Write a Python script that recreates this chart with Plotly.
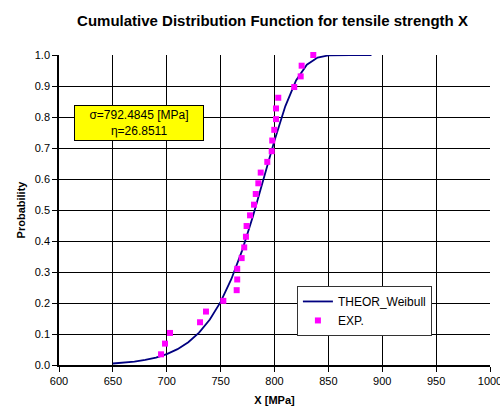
import plotly.graph_objects as go

# Theoretical Weibull CDF
theor_x = [650, 660, 670, 680, 690, 700, 710, 720, 730, 740, 750, 760, 770,
           780, 790, 800, 810, 820, 830, 840, 850, 860, 870, 880, 890]
theor_y = [0.0049, 0.0073, 0.0110, 0.0163, 0.0240, 0.0351, 0.0510, 0.0733,
           0.1044, 0.1469, 0.2037, 0.2775, 0.3698, 0.4795, 0.6011, 0.7243,
           0.8344, 0.9180, 0.9687, 0.9916, 0.9986, 0.9999, 1.0, 1.0, 1.0]

# Experimental points
exp_x = [694.7, 698.4, 703.0, 730.9, 736.4, 752.5, 764.9, 765.4, 765.4,
         769.5, 771.9, 773.5, 774.1, 777.3, 781.0, 782.6, 785.0, 787.2,
         793.3, 797.4, 797.9, 799.8, 801.4, 801.4, 803.5, 818.3, 824.3,
         825.2, 836.0]
exp_y = [0.0345, 0.0690, 0.1034, 0.1379, 0.1724, 0.2069, 0.2414, 0.2759,
         0.3103, 0.3448, 0.3793, 0.4138, 0.4483, 0.4828, 0.5172, 0.5517,
         0.5862, 0.6207, 0.6552, 0.6897, 0.7241, 0.7586, 0.7931, 0.8276,
         0.8621, 0.8966, 0.9310, 0.9655, 1.0]

FONT = "Liberation Sans, Arial, sans-serif"

fig = go.Figure()
fig.add_trace(go.Scatter(
    x=theor_x, y=theor_y, mode="lines", name="THEOR_Weibull",
    line=dict(color="#000080", width=1.8), cliponaxis=False))
fig.add_trace(go.Scatter(
    x=exp_x, y=exp_y, mode="markers", name="EXP.",
    marker=dict(symbol="square", color="#FF00FF", size=6,
                line=dict(width=0)), cliponaxis=False))

fig.update_layout(
    width=500, height=409,
    margin=dict(l=59, r=10, t=55, b=44, autoexpand=False),
    paper_bgcolor="white", plot_bgcolor="white",
    font=dict(family=FONT, size=11, color="black"),
    title=dict(text="<b>Cumulative Distribution Function for tensile strength X</b>",
               x=0.545, xanchor="center", y=0.950, yanchor="middle",
               font=dict(family=FONT, size=15, color="black")),
    showlegend=True,
    legend=dict(x=0.552, y=0.255, xanchor="left", yanchor="top",
                bgcolor="white", bordercolor="#333", borderwidth=1,
                font=dict(family=FONT, size=12, color="black"),
                itemwidth=30, tracegroupgap=0),
    annotations=[dict(
        x=674, y=0.78, xref="x", yref="y",
        text="σ=792.4845 [MPa]<br>η=26.8511",
        showarrow=False, align="center",
        font=dict(family=FONT, size=12, color="black"),
        bgcolor="#FFFF00", bordercolor="black", borderwidth=1, borderpad=2,
        width=124)],
)

fig.update_xaxes(
    range=[600, 1000], dtick=50, tick0=600,
    showgrid=True, gridcolor="#000", gridwidth=1,
    showline=True, linecolor="#000", linewidth=1.5,
    ticks="outside", ticklen=5, tickcolor="#000",
    zeroline=False, automargin=False, ticklabeloverflow="allow",
    title=dict(text="<b>X [MPa]</b>", font=dict(family=FONT, size=11, color="black"),
               standoff=10),
    tickfont=dict(family=FONT, size=11, color="black"))
fig.update_yaxes(
    range=[0, 1.0], dtick=0.1, tick0=0, tickformat=".1f",
    showgrid=True, gridcolor="#000", gridwidth=1,
    showline=True, linecolor="#000", linewidth=1.5,
    ticks="outside", ticklen=5, tickcolor="#000",
    zeroline=False, automargin=False,
    title=dict(text="<b>Probability</b>", font=dict(family=FONT, size=11, color="black"),
               standoff=7),
    tickfont=dict(family=FONT, size=11, color="black"))

fig.write_html("out.html")
